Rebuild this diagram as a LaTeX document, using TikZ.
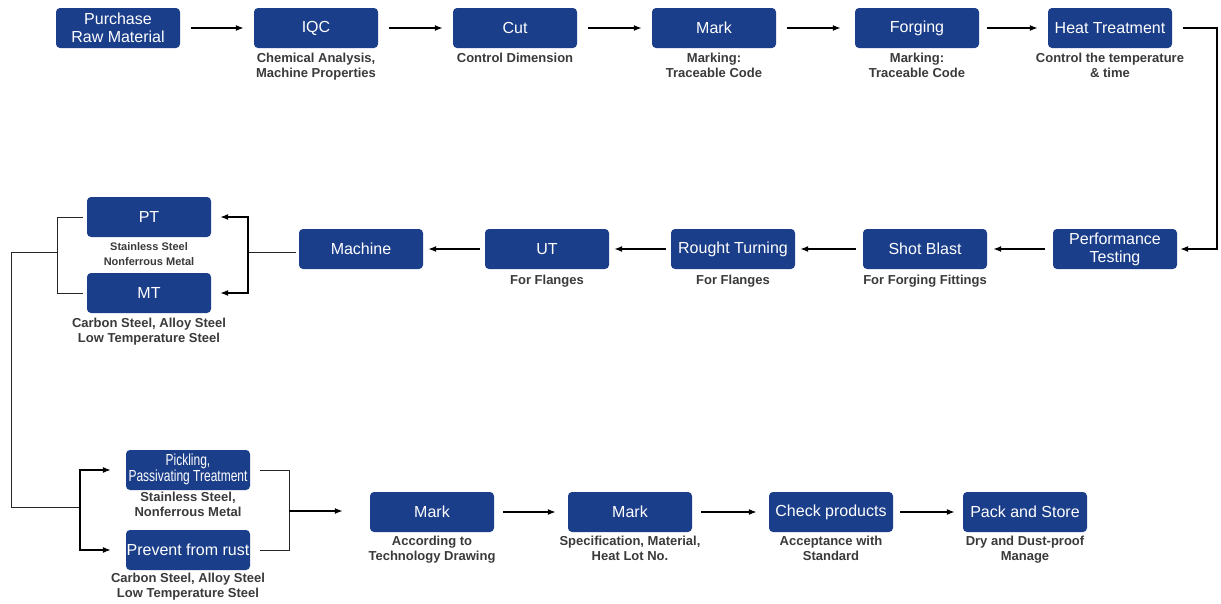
\documentclass[tikz,border=0pt]{standalone}
\usepackage{fontspec}
\setmainfont{Liberation Sans}
\usetikzlibrary{arrows.meta}
\definecolor{boxblue}{RGB}{27,62,138}
\definecolor{lblgray}{RGB}{58,58,58}
\begin{document}
\begin{tikzpicture}[x=1pt,y=-1pt,
  box/.style={rectangle, rounded corners=4pt, fill=boxblue, text=white,
    minimum width=124pt, minimum height=40pt, inner sep=0pt, align=center,
    font=\fontsize{16}{18}\selectfont},
  lbl/.style={text=lblgray, inner sep=0pt, anchor=north, align=center,
    font=\bfseries\fontsize{13}{15}\selectfont},
  slbl/.style={lbl, font=\bfseries\fontsize{11}{15}\selectfont},
  arr/.style={draw=black, line width=1.4pt, -{Latex[length=8pt,width=6pt]}},
  brk/.style={draw=black!85, line width=1pt},
  brkarr/.style={draw=black, line width=1.2pt, -{Latex[length=8pt,width=6pt]}}
]
\useasboundingbox (0,0) rectangle (1221,603);
\fill[white] (0,0) rectangle (1221,603);

% top row
\node[box] (pur) at (118,28) {Purchase\\Raw Material};
\node[box] (iqc) at (316,28) {IQC};
\node[box] (cut) at (515,28) {Cut};
\node[box] (mk1) at (714,28) {Mark};
\node[box] (forg) at (917,28) {Forging};
\node[box] (heat) at (1110,28) {Heat Treatment};

\node[lbl] (liqc) at ([yshift=-5pt]iqc.south) {Chemical Analysis,\\Machine Properties};
\node[lbl] (lcut) at ([yshift=-5pt]cut.south) {Control Dimension};
\node[lbl] (lmk1) at ([yshift=-5pt]mk1.south) {Marking:\\Traceable Code};
\node[lbl] (lforg) at ([yshift=-5pt]forg.south) {Marking:\\Traceable Code};
\node[lbl] (lheat) at ([yshift=-5pt]heat.south) {Control the temperature\\\& time};

\draw[arr] ([xshift=11pt]pur.east) -- ([xshift=-10pt]iqc.west);
\draw[arr] ([xshift=11pt]iqc.east) -- ([xshift=-10pt]cut.west);
\draw[arr] ([xshift=11pt]cut.east) -- ([xshift=-10pt]mk1.west);
\draw[arr] ([xshift=11pt]mk1.east) -- ([xshift=-14pt]forg.west);
\draw[arr] ([xshift=8pt]forg.east) -- ([xshift=-10pt]heat.west);

% second row
\node[box] (perf) at (1115,249) {Performance\\Testing};
\node[box] (shot) at (925,249) {Shot Blast};
\node[box] (rt) at (733,249) {Rought Turning};
\node[box] (ut) at (547,249) {UT};
\node[box] (mach) at (361,249) {Machine};
\node[box] (pt) at (149,217) {PT};
\node[box] (mt) at (149,293) {MT};

\node[lbl] (lshot) at ([yshift=-6pt]shot.south) {For Forging Fittings};
\node[lbl] (lrt) at ([yshift=-6pt]rt.south) {For Flanges};
\node[lbl] (lut) at ([yshift=-6pt]ut.south) {For Flanges};
\node[slbl] (lpt) at ([yshift=-5pt]pt.south) {Stainless Steel\\Nonferrous Metal};
\node[lbl] (lmt) at ([yshift=-5pt]mt.south) {Carbon Steel, Alloy Steel\\Low Temperature Steel};

\coordinate (c1) at (1217,28);
\draw[brkarr] ([xshift=11pt]heat.east) -- (c1) |- ([xshift=3pt]perf.east);
\draw[arr] ([xshift=-8pt]perf.west) -- ([xshift=6pt]shot.east);
\draw[arr] ([xshift=-7pt]shot.west) -- ([xshift=5pt]rt.east);
\draw[arr] ([xshift=-5pt]rt.west) -- ([xshift=5pt]ut.east);
\draw[arr] ([xshift=-5pt]ut.west) -- ([xshift=5pt]mach.east);

\coordinate (mb) at (248,252);
\draw[brk] ([xshift=-3pt]mach.west |- mb) -- (mb);
\draw[brkarr] (mb) |- ([xshift=9pt]pt.east);
\draw[brkarr] (mb) |- ([xshift=9pt]mt.east);

\coordinate (lb) at (57,252);
\draw[brk] ([xshift=-4pt]pt.west) -| (lb);
\draw[brk] ([xshift=-4pt]mt.west) -| (lb);

% bottom row
\node[box] (pick) at (188,470) {\scalebox{0.75}[1]{\fontsize{16}{17}\selectfont\begin{tabular}{@{}c@{}}Pickling,\\[-1pt]Passivating Treatment\end{tabular}}};
\node[box] (rust) at (188,550) {Prevent from rust};
\node[box] (mk2) at (432,512) {Mark};
\node[box] (mk3) at (630,512) {Mark};
\node[box] (chk) at (831,512) {Check products};
\node[box] (pack) at (1025,512) {Pack and Store};

\node[lbl] (lpick) at ([yshift=-2pt]pick.south) {Stainless Steel,\\Nonferrous Metal};
\node[lbl] (lrust) at ([yshift=-3pt]rust.south) {Carbon Steel, Alloy Steel\\Low Temperature Steel};
\node[lbl] (lmk2) at ([yshift=-4pt]mk2.south) {According to\\Technology Drawing};
\node[lbl] (lmk3) at ([yshift=-4pt]mk3.south) {Specification, Material,\\Heat Lot No.};
\node[lbl] (lchk) at ([yshift=-4pt]chk.south) {Acceptance with\\Standard};
\node[lbl] (lpack) at ([yshift=-4pt]pack.south) {Dry and Dust-proof\\Manage};

\coordinate (dl) at (11,252);
\coordinate (db) at (80,507);
\draw[brk] (lb) -- (dl) |- (db);
\draw[brkarr] (db) |- ([xshift=-15pt]pick.west);
\draw[brkarr] (db) |- ([xshift=-15pt]rust.west);

\coordinate (rb) at (289,511);
\draw[brk] ([xshift=10pt]pick.east) -| (rb);
\draw[brk] ([xshift=10pt]rust.east) -| (rb);
\draw[arr] (rb) -- ([xshift=-27pt]mk2.west |- rb);

\draw[arr] ([xshift=9pt]mk2.east) -- ([xshift=-12pt]mk3.west);
\draw[arr] ([xshift=9pt]mk3.east) -- ([xshift=-12pt]chk.west);
\draw[arr] ([xshift=7pt]chk.east) -- ([xshift=-8pt]pack.west);
\end{tikzpicture}
\end{document}
